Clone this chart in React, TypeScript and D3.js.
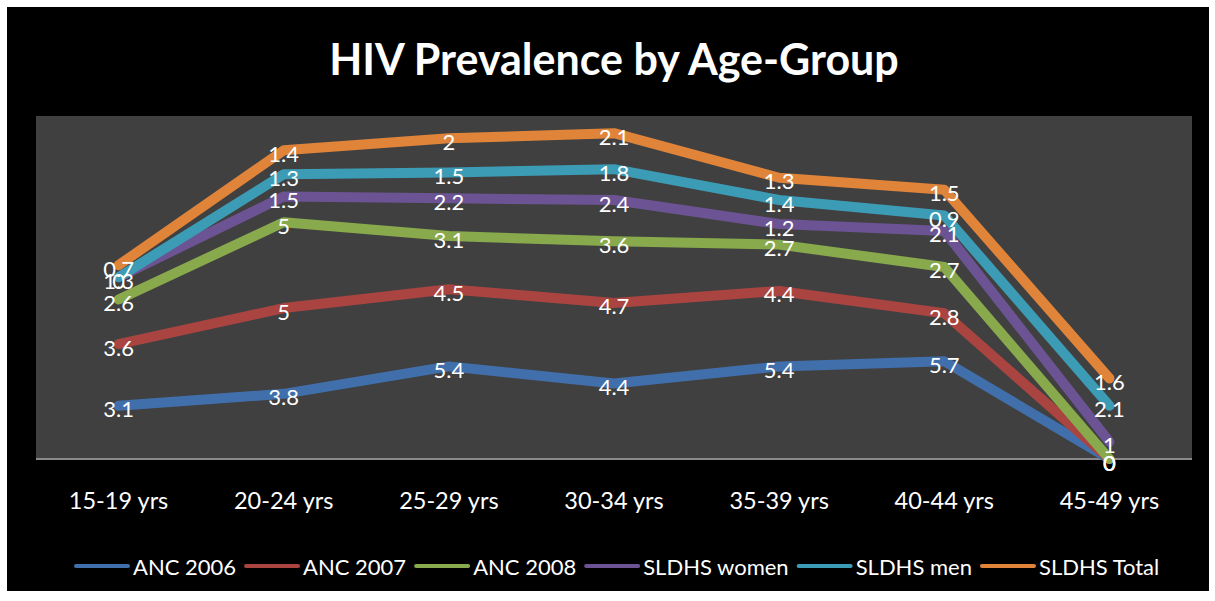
import React, { useEffect, useRef } from 'react';
import * as d3 from 'd3';

const ageGroups = ['15-19 yrs', '20-24 yrs', '25-29 yrs', '30-34 yrs', '35-39 yrs', '40-44 yrs', '45-49 yrs'];
const seriesNames = ['ANC 2006', 'ANC 2007', 'ANC 2008', 'SLDHS women', 'SLDHS men', 'SLDHS Total'];
const anc2006 = [3.1, 3.8, 5.4, 4.4, 5.4, 5.7, 0];
const anc2007 = [3.6, 5, 4.5, 4.7, 4.4, 2.8, 0];
const anc2008 = [2.6, 5, 3.1, 3.6, 2.7, 2.7, 0];
const sldhsWomen = [1.3, 1.5, 2.2, 2.4, 1.2, 2.1, 1];
const sldhsMen = [0, 1.3, 1.5, 1.8, 1.4, 0.9, 2.1];
const sldhsTotal = [0.7, 1.4, 2, 2.1, 1.3, 1.5, 1.6];
const colors = ['#416FAB', '#AA4441', '#88A94C', '#6C5393', '#3C9CB6', '#E0843A'];

const FONT = 'Lato, "Open Sans", sans-serif';

export default function App() {
  const ref = useRef<SVGSVGElement>(null);

  useEffect(() => {
    const svg = d3.select(ref.current);
    svg.selectAll('*').remove();

    const plot = { left: 36, top: 116, right: 1192, bottom: 459 };
    const allSeries = [anc2006, anc2007, anc2008, sldhsWomen, sldhsMen, sldhsTotal];

    //stacked table
    const table = ageGroups.map((g, i) => {
      const row: any = { group: g };
      seriesNames.forEach((s, j) => (row[s] = allSeries[j][i]));
      return row;
    });
    const stacked = d3.stack().keys(seriesNames)(table);

    const x = d3.scalePoint().domain(ageGroups).range([plot.left, plot.right]).padding(0.5);
    const y = d3.scaleLinear().domain([0, 20]).range([plot.bottom, plot.top]);

    svg.append('rect').attr('x', 7).attr('y', 7).attr('width', 1202).attr('height', 584).attr('fill', '#000');
    svg.append('rect')
      .attr('x', plot.left).attr('y', plot.top)
      .attr('width', plot.right - plot.left).attr('height', plot.bottom - plot.top)
      .attr('fill', '#404040');

    // title
    svg.append('text')
      .attr('x', 614).attr('y', 58)
      .attr('text-anchor', 'middle').attr('dominant-baseline', 'central')
      .attr('fill', '#fff').attr('font-family', FONT).attr('font-weight', 'bold').attr('font-size', 43)
      .text('HIV Prevalence by Age-Group');

    // axis line
    svg.append('line')
      .attr('x1', plot.left).attr('x2', plot.right)
      .attr('y1', plot.bottom).attr('y2', plot.bottom)
      .attr('stroke', '#8a8a8a').attr('stroke-width', 2);

    // x labels
    svg.append('g').selectAll('text').data(ageGroups).join('text')
      .attr('x', d => x(d)!).attr('y', 500)
      .attr('text-anchor', 'middle').attr('dominant-baseline', 'central')
      .attr('fill', '#fff').attr('font-family', FONT).attr('font-size', 23.5)
      .text(d => d);

    const line = d3.line<any>()
      .x((d, i) => x(ageGroups[i])!)
      .y(d => y(d[1]));

    stacked.forEach((s, j) => {
      svg.append('path')
        .attr('d', line(s as any))
        .attr('fill', 'none')
        .attr('stroke', colors[j])
        .attr('stroke-width', 10)
        .attr('stroke-linejoin', 'round')
        .attr('stroke-linecap', 'round');
    });

    // data labels
    stacked.forEach((s, j) => {
      svg.append('g').selectAll('text').data(s).join('text')
        .attr('x', (d, i) => x(ageGroups[i])!)
        .attr('y', d => y(d[1]) + 3)
        .attr('text-anchor', 'middle').attr('dominant-baseline', 'central')
        .attr('fill', '#fff').attr('font-family', FONT).attr('font-size', 22)
        .text((d, i) => String(allSeries[j][i]));
    });

    // legend
    const lg = svg.append('g');
    let lx = 76;
    seriesNames.forEach((name, j) => {
      lg.append('line')
        .attr('x1', lx).attr('x2', lx + 52).attr('y1', 566).attr('y2', 566)
        .attr('stroke', colors[j]).attr('stroke-width', 4).attr('stroke-linecap', 'round');
      const t = lg.append('text')
        .attr('x', lx + 57).attr('y', 566)
        .attr('dominant-baseline', 'central')
        .attr('fill', '#fff').attr('font-family', FONT).attr('font-size', 22)
        .text(name);
      const w = (t.node() as SVGTextElement).getComputedTextLength();
      lx += 57 + w + 10;
    });
  }, []);

  return <svg ref={ref} width={1215} height={601} style={{ display: 'block', position: 'absolute', left: 0, top: 0 }} />;
}
